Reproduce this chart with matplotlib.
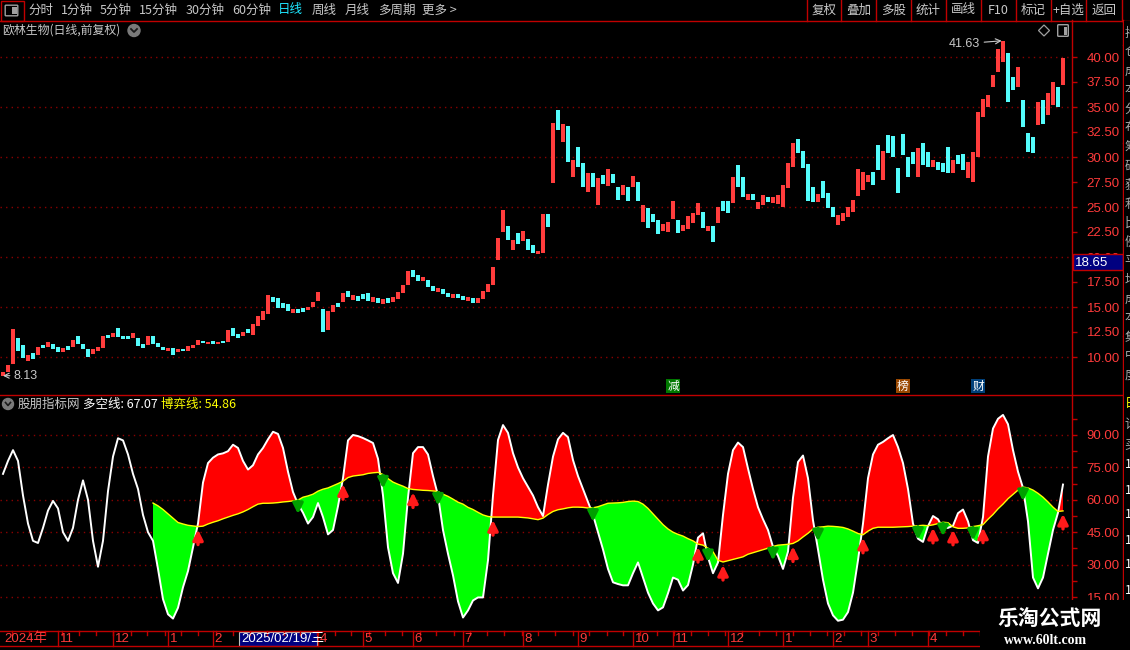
import numpy as np
import matplotlib.pyplot as plt
from matplotlib.patches import Rectangle, FancyBboxPatch, Circle, Polygon
from matplotlib.transforms import blended_transform_factory

plt.rcParams['font.family'] = ['Noto Sans CJK SC', 'DejaVu Sans']

# 欧林生物 日线(前复权), one bar here ~ two trading days
opens = [
    8.13, 8.5, 9.3, 11.9, 11.2, 9.6, 10.4, 10.2, 11.2, 11.0,
    11.3, 11.0, 10.5, 11.1, 11.0, 12.1, 11.3, 10.8, 10.3, 10.6,
    10.9, 12.2, 12.0, 12.9, 12.1, 12.1, 11.9, 11.9, 11.3, 11.2,
    12.1, 11.4, 11.0, 10.6, 10.9, 10.5, 10.8, 10.6, 10.9, 11.2,
    11.6, 11.3, 11.6, 11.3, 11.6, 11.5, 12.9, 12.3, 12.1, 12.8,
    12.2, 13.1, 13.7, 14.3, 16.0, 15.9, 15.4, 15.3, 14.4, 14.8,
    14.9, 14.7, 15.0, 15.6, 14.8, 12.7, 14.5, 15.4, 15.5, 16.6,
    15.7, 16.1, 16.3, 16.4, 15.5, 15.9, 15.3, 15.9, 15.5, 15.8,
    16.4, 17.2, 18.7, 18.2, 17.6, 17.7, 17.1, 16.5, 16.8, 16.4,
    15.9, 16.3, 16.1, 15.6, 15.9, 15.4, 15.8, 16.5, 17.2, 19.7,
    22.5, 23.1, 20.7, 22.4, 21.6, 21.8, 21.2, 20.3, 20.4, 24.3,
    27.4, 34.7, 31.5, 33.1, 28.0, 31.0, 29.4, 26.5, 28.4, 25.2,
    28.2, 27.1, 28.3, 27.0, 26.2, 27.0, 27.0, 27.5, 23.5, 24.9,
    24.3, 23.7, 22.6, 22.5, 23.8, 23.7, 22.6, 22.8, 23.4, 24.2,
    24.5, 22.6, 23.1, 23.4, 25.6, 25.6, 25.4, 29.2, 28.0, 25.7,
    26.3, 24.8, 25.2, 26.0, 25.4, 25.3, 25.0, 26.9, 29.0, 31.8,
    30.6, 29.3, 27.0, 25.5, 27.6, 26.4, 25.0, 23.2, 23.6, 24.0,
    24.5, 26.1, 26.7, 27.5, 28.5, 31.2, 27.7, 32.2, 32.1, 28.9,
    32.3, 30.0, 30.5, 28.0, 31.4, 30.5, 29.0, 29.5, 29.4, 31.0,
    28.4, 30.2, 30.3, 27.9, 27.5, 30.0, 34.0, 35.0, 37.0, 38.5,
    39.5, 40.4, 38.0, 37.0, 35.7, 32.4, 32.0, 33.2, 35.7, 34.2,
    35.2, 37.0, 37.2,
]
closes = [
    8.5, 9.2, 12.8, 10.6, 9.9, 10.2, 9.8, 11.0, 10.9, 11.5,
    10.8, 10.5, 10.9, 10.7, 11.7, 11.3, 10.8, 10.0, 10.8, 11.0,
    12.1, 11.9, 12.4, 12.0, 11.8, 11.8, 12.4, 11.1, 10.9, 12.1,
    11.3, 11.0, 10.7, 10.9, 10.2, 10.8, 10.6, 11.1, 11.2, 11.7,
    11.4, 11.5, 11.3, 11.5, 11.4, 12.7, 12.1, 11.9, 12.5, 12.4,
    13.3, 14.1, 14.6, 16.2, 15.5, 14.9, 14.9, 14.6, 14.8, 14.4,
    14.5, 15.0, 15.5, 16.5, 12.5, 14.6, 15.2, 15.0, 16.4, 16.0,
    16.2, 15.6, 15.8, 15.6, 16.0, 15.4, 15.8, 15.4, 16.0, 16.5,
    17.2, 18.6, 18.0, 17.6, 18.0, 17.0, 16.6, 16.9, 16.3, 16.0,
    16.3, 15.9, 15.7, 16.0, 15.4, 15.9, 16.6, 17.3, 19.0, 21.9,
    24.7, 21.7, 21.7, 21.3, 22.6, 20.7, 20.4, 20.6, 24.3, 23.0,
    33.4, 32.7, 33.3, 29.5, 29.7, 29.0, 27.0, 28.4, 27.0, 27.9,
    27.3, 28.8, 27.4, 25.7, 27.2, 25.6, 28.1, 25.6, 25.2, 22.9,
    23.5, 22.3, 23.3, 23.5, 25.6, 22.4, 23.2, 24.1, 24.4, 25.4,
    22.9, 23.1, 21.5, 25.0, 24.6, 24.4, 28.0, 27.0, 26.0, 26.3,
    25.7, 25.5, 26.2, 25.5, 26.0, 26.2, 27.2, 29.4, 31.4, 30.4,
    28.9, 25.6, 25.5, 26.3, 25.9, 24.9, 24.0, 24.2, 24.4, 25.0,
    25.7, 28.8, 28.5, 28.2, 27.2, 28.7, 30.6, 30.4, 30.0, 26.4,
    30.2, 28.0, 29.3, 30.9, 29.2, 29.0, 29.7, 28.7, 28.5, 28.4,
    29.7, 29.3, 28.7, 29.5, 30.5, 34.5, 35.8, 36.2, 38.2, 40.8,
    41.63, 35.5, 36.7, 39.0, 33.0, 30.5, 30.4, 35.5, 33.3, 36.4,
    37.5, 35.0, 39.9,
]

# 股朋指标网: 多空线 (white) and 博弈线 (yellow, starts later)
duokong = [
    72, 78, 83, 78, 62, 49, 41, 40, 47, 55,
    59.5, 56, 45, 41, 47, 60, 69, 60, 41, 29,
    41, 64, 80, 88.5, 87.5, 81, 72, 65, 53, 45,
    41, 28, 14, 7, 5, 10, 19.5, 27, 38, 49,
    68, 77, 79.5, 81, 81.5, 82.5, 85.5, 84, 78, 74,
    76, 81, 84, 88, 91.5, 90.5, 84, 73, 63.6, 58,
    54, 49, 52, 58.5, 52, 44, 46, 57, 70, 87.5,
    90, 89.5, 88.6, 87.5, 86.3, 79, 62, 38, 26, 21.5,
    35, 61, 81.6, 84.4, 84.4, 81, 71, 62, 46, 35,
    25, 13, 5.5, 8.8, 13.4, 14.8, 14.8, 32, 62, 87.7,
    94.6, 91, 81.6, 75, 70, 66, 62, 56.6, 52.5, 67,
    80, 88, 91, 89, 78.4, 71, 65, 59, 53, 45,
    37, 28, 21.8, 21, 20.4, 20.4, 26, 31, 24, 17,
    12, 8.8, 10.2, 16.7, 24, 23, 18, 20.5, 30, 42.5,
    44.5, 33.4, 26, 31, 53, 72, 83, 86.5, 84.4, 74.5,
    65, 56.6, 51, 46, 38.2, 34, 28, 36, 61, 77.5,
    80.5, 70, 50.5, 37, 23, 12, 6.5, 4, 4.5, 8,
    17, 32, 49, 70, 81, 85.5, 86.8, 88.5, 90, 84.4,
    77, 65, 49, 42, 40.5, 47.8, 52.5, 51, 46.8, 47,
    48, 53.8, 55.5, 50, 41.3, 40, 52, 80, 93, 97.5,
    99.3, 95, 83, 73, 65.5, 50, 24, 19, 24, 35,
    46, 54, 67.07,
]
boyi = [np.nan] * 30 + [
    58.5, 57.2, 55.5, 53.5, 51.5, 49.5, 48.8, 48.2, 47.9, 47.6,
    47.8, 48.8, 49.6, 50.3, 51.2, 52, 52.8, 53.5, 54.4, 55.5,
    56.8, 58, 58.4, 58.4, 58.5, 58.7, 59, 59.2, 59.5, 59.9,
    61.2, 61.8, 62.6, 64, 64.9, 65.5, 66.5, 67.5, 68.6, 70.3,
    71, 71.3, 71.6, 72.2, 72.5, 72.7, 71.7, 69.8, 68.2, 67.2,
    66.3, 65.2, 64.8, 64.6, 64.4, 64.3, 64.1, 63.8, 62.6, 61.6,
    60.3, 58.9, 58, 56.5, 55.5, 54.2, 53, 52.3, 52, 52,
    52, 52, 52, 52, 51.8, 51.6, 51.2, 50.8, 51.5, 53.2,
    54.6, 55.4, 55.8, 56.3, 56.6, 56.6, 56.5, 56.2, 56.3, 56.8,
    57.6, 58.4, 58.5, 58.6, 58.8, 59.2, 59.4, 59.2, 58, 56,
    53.5, 51, 48.5, 46.5, 45, 44, 43.2, 42, 41, 39.5,
    39, 37.6, 36, 32, 31.2, 31.8, 32.4, 33, 33.6, 34.8,
    35.5, 36.2, 36.9, 37.6, 38.4, 39, 39.2, 39.4, 39.8, 41,
    42.8, 44.5, 46.5, 47.3, 47.5, 47.8, 47.7, 47.5, 47.2, 46.5,
    45.5, 44.4, 43.8, 45.5, 46.8, 47.3, 47.3, 47.3, 47.3, 47.4,
    47.5, 47.6, 47.8, 48, 48.2, 48, 48.4, 49, 49.6, 49.4,
    47.5, 46.8, 46.8, 47, 47.6, 48, 48.5, 51, 53.2, 55.8,
    58, 60.5, 62.5, 64.5, 65.9, 65.5, 64.5, 63, 61.2, 59,
    56.6, 54.6, 54.86,
]

# time axis: bar index where each month starts (March 2025 sits under the cursor box)
month_labels = ['2024年', '11', '12', '1', '2', '4', '5', '6', '7', '8',
                '9', '10', '11', '12', '1', '2', '3', '4']
month_start = [0, 11, 22, 33, 42, 63, 72, 82, 92, 104,
               115, 126, 134, 145, 156, 166, 173, 185]

events = ['减', '榜', '财']
event_bar = [134, 180, 195]

price_ticks = np.arange(10, 40.01, 2.5)
ind_ticks = [15, 30, 45, 60, 75, 90]
cursor_date = '2025/02/19/三'
cursor_price = 18.65

W, H = 1130, 650
RED_LINE = '#c00000'
GRID = '#8a0000'
LABEL_RED = '#ff3b3b'
GRAY = '#c8c8c8'
NUMFONT = ['Liberation Sans', 'Noto Sans CJK SC']

fig = plt.figure(figsize=(W / 100, H / 100), dpi=100, facecolor='black')


def px_axes(l, t, r, b, z=1):
    a = fig.add_axes([l / W, 1 - b / H, (r - l) / W, (b - t) / H], zorder=z)
    a.set_facecolor('black')
    for s in a.spines.values():
        s.set_visible(False)
    return a


n = len(closes)
idx = np.arange(n)
o = np.array(opens)
c = np.array(closes)
w = np.array(duokong, float)
yl = np.array(boyi, float)

# ---- price panel ----
ax = px_axes(0, 20, 1072, 394)
ax.set_xlim(-0.6, n + 0.8)
ax.set_ylim(6.3, 43.7)
for v in np.arange(10, 41, 5):
    ax.axhline(v, color=GRID, lw=1, ls=(0, (1, 3)), zorder=0)
up = c >= o
ax.bar(idx[up], (c - o)[up], bottom=o[up], width=0.68, color='#ff3c3c', lw=0)
ax.bar(idx[~up], (c - o)[~up], bottom=o[~up], width=0.68, color='#54fcfc', lw=0)

hi = c.argmax()
ax.annotate(f'{c[hi]:.2f}', xy=(hi, c[hi]), xytext=(-23, -3), textcoords='offset pixels',
            ha='right', va='center', color=GRAY, fontsize=9, fontfamily=NUMFONT,
            arrowprops=dict(arrowstyle='->', color=GRAY, lw=0.8, shrinkA=1, shrinkB=1))
lows = np.minimum(o, c)
lo = lows.argmin()
ax.annotate(f'{lows[lo]:.2f}', xy=(lo, lows[lo]), xytext=(11, 0), textcoords='offset pixels',
            ha='left', va='center', color=GRAY, fontsize=9, fontfamily=NUMFONT,
            arrowprops=dict(arrowstyle='->', color=GRAY, lw=0.8, shrinkA=1, shrinkB=0))

for lab, b, col in zip(events, event_bar, ['#007800', '#9a4800', '#00407a']):
    ax.text(b, 7.1, lab, color='white', fontsize=8.5, ha='center', va='center',
            bbox=dict(boxstyle='square,pad=0.08', fc=col, ec='none'))

ax.yaxis.tick_right()
ax.set_yticks(price_ticks)
ax.set_yticklabels([f'{v:.2f}' for v in price_ticks], fontfamily='Liberation Sans')
ax.tick_params(axis='y', color=RED_LINE, labelcolor=LABEL_RED, length=3.6, width=1,
               pad=7, labelsize=9.5)
ax.set_xticks([])

# ---- indicator panel ----
ax2 = px_axes(0, 394, 1072, 631)
ax2.set_xlim(-0.6, n + 0.8)
ax2.set_ylim(-0.74, 108.98)
for v in ind_ticks:
    ax2.axhline(v, color=GRID, lw=1, ls=(0, (1, 3)), zorder=0)
ax2.fill_between(idx, w, yl, where=w >= yl, interpolate=True, color='#ff0000', lw=0, zorder=2)
ax2.fill_between(idx, w, yl, where=w < yl, interpolate=True, color='#00ff00', lw=0, zorder=2)
ax2.plot(idx, w, color='white', lw=1.4, zorder=3)
ax2.plot(idx, yl, color='#ffff00', lw=1, zorder=3)

unit = (108.98 + 0.74) / 237  # value per pixel
for i in range(31, n):
    d0 = w[i - 1] - yl[i - 1]
    d1 = w[i] - yl[i]
    if d0 < 0 <= d1:
        ax2.annotate('', xy=(i, yl[i] - 3 * unit), xytext=(i, yl[i] - 18 * unit),
                     arrowprops=dict(arrowstyle='-|>', color='#ff1a1a', lw=2.4,
                                     mutation_scale=15, shrinkA=0, shrinkB=0), zorder=4)
    elif d0 >= 0 > d1:
        ax2.annotate('', xy=(i, yl[i] - 14 * unit), xytext=(i, yl[i] - 1 * unit),
                     arrowprops=dict(arrowstyle='-|>', color='#00a000', lw=2.4,
                                     mutation_scale=15, shrinkA=0, shrinkB=0), zorder=4)

ax2.yaxis.tick_right()
ax2.set_yticks(ind_ticks)
ax2.set_yticks(np.arange(7.5, 100, 15), minor=True)
ax2.set_yticklabels([f'{v:.2f}' for v in ind_ticks], fontfamily='Liberation Sans')
ax2.tick_params(axis='y', which='both', color=RED_LINE, labelcolor=LABEL_RED, length=3.6,
                width=1, pad=7, labelsize=9.5)
ax2.set_xticks([])

# ---- frame, toolbar, labels ----
ov = fig.add_axes([0, 0, 1, 1], zorder=5)
ov.set_xlim(0, W)
ov.set_ylim(H, 0)
ov.axis('off')


def hline(y, x0, x1):
    ov.plot([x0, x1], [y, y], color=RED_LINE, lw=1)


def vline(x, y0, y1):
    ov.plot([x, x], [y0, y1], color=RED_LINE, lw=1)


hline(20.5, 0, W)
hline(394.5, 0, 1123)
hline(631, 0, W)
hline(646, 0, W)
vline(1072, 20, H)
vline(1123, 20, H)
for y in [45, 143, 239, 336]:
    hline(y, 1123, W)

# toolbar
ov.add_patch(Rectangle((0.5, 0.5), 23, 20, fill=False, ec=RED_LINE, lw=1))
ov.add_patch(FancyBboxPatch((6, 6), 11, 9, boxstyle='round,pad=0.8', fc='none', ec='#a0a0a0', lw=1))
ov.add_patch(Rectangle((11.5, 7), 5, 7, fc='#a0a0a0', ec='none'))
left_items = ['分时', '1分钟', '5分钟', '15分钟', '30分钟', '60分钟', '日线', '周线', '月线', '多周期', '更多 >']
left_x = [28, 61, 100, 139, 186, 232, 278, 312, 345, 378, 422]
for lab, x in zip(left_items, left_x):
    ov.text(x, 10, lab, color='#1ee6ff' if lab == '日线' else GRAY, fontsize=9,
            va='center', ha='left')
right_items = ['复权', '叠加', '多股', '统计', '画线', 'F10', '标记', '+自选', '返回']
seps = [807, 841, 876, 911, 946, 981, 1016, 1051, 1086, 1122]
for k, lab in enumerate(right_items):
    ov.text((seps[k] + seps[k + 1]) / 2, 10, lab, color=GRAY, fontsize=9, va='center', ha='center')
for x in seps:
    vline(x, 0, 20.5)

# price panel title and icons
ov.text(2, 30, '欧林生物(日线,前复权)', color=GRAY, fontsize=8.6, va='center', ha='left')
ov.add_patch(Circle((134, 30.5), 6, color='#7a7a7a'))
ov.plot([131, 134, 137], [29, 32, 29], color='#1a1a1a', lw=1.3)
ov.add_patch(Polygon([(1044, 25), (1049.5, 30.5), (1044, 36), (1038.5, 30.5)], closed=True,
                     fill=False, ec='#a0a0a0', lw=0.9))
ov.add_patch(FancyBboxPatch((1058.5, 25.5), 9, 10, boxstyle='round,pad=0.8', fc='none', ec='#a0a0a0', lw=1))
ov.add_patch(Rectangle((1063.5, 26.5), 3.5, 8, fc='#a0a0a0', ec='none'))

# cursor price box
ov.add_patch(Rectangle((1072.5, 254), 50.5, 16, fc='#000080', ec=RED_LINE, lw=1))
ov.text(1075, 262.5, f'{cursor_price:.2f}', color='white', fontsize=9.5, va='center',
        ha='left', fontfamily='Liberation Sans')

# indicator title
ov.add_patch(Circle((8, 404), 5.5, color='#7a7a7a'))
ov.plot([5.5, 8, 10.5], [402.5, 405.5, 402.5], color='#1a1a1a', lw=1.2)
ov.text(18, 404, '股朋指标网', color=GRAY, fontsize=9, va='center', ha='left')
ov.text(83, 404, f'多空线: {w[-1]:.2f}', color='white', fontsize=9, va='center', ha='left')
ov.text(161, 404, f'博弈线: {yl[-1]:.2f}', color='#ffff00', fontsize=9, va='center', ha='left')

# date axis
tr = blended_transform_factory(ax2.transData, ov.transData)
for t in np.arange(1.7, n, 3.4):
    ov.plot([t, t], [631, 635], color=RED_LINE, lw=1, transform=tr)
for lab, b in zip(month_labels, month_start):
    if b > 0:
        ov.plot([b, b], [631, 646], color=RED_LINE, lw=1, transform=tr)
    ov.text(b + 0.3, 639, lab, transform=tr, color=LABEL_RED, fontsize=9.5, va='center',
            ha='left', fontfamily=NUMFONT)
ov.add_patch(Rectangle((239, 631.5), 78, 14, fc='#000080', ec='#c0c0c0', lw=0.8))
ov.text(241, 639, cursor_date, color='white', fontsize=9.5, va='center', ha='left',
        fontfamily=NUMFONT)

# right side strip (cut off in the screenshot)
strip = px_axes(1124, 21, W, 600, z=6)
strip.set_xlim(0, 6)
strip.set_ylim(579, 0)
strip.set_xticks([])
strip.set_yticks([])
for k, ch in enumerate('持仓成本分布筹码获利比例平均成本集中度'):
    strip.text(0.5, 12 + k * 19, ch, color='#a8a8a8', fontsize=9, va='center', clip_on=True)
for k, ch in enumerate('日论买'):
    strip.text(0.5, 382 + k * 21, ch, color='#ffff00' if k == 0 else '#a8a8a8',
               fontsize=9, va='center', clip_on=True)
for k in range(6):
    strip.text(0.5, 444 + k * 25, '1', color='white', fontsize=9, va='center', clip_on=True)

# watermark
ov.add_patch(Rectangle((980, 600), 150, 50, fc='black', ec='none', zorder=10))
ov.text(1050, 618, '乐淘公式网', color='white', fontsize=15, fontweight='bold',
        va='center', ha='center', zorder=11)
ov.text(1046, 640, 'www.60lt.com', color='white', fontsize=10, fontweight='bold',
        fontfamily='Liberation Serif', va='center', ha='center', zorder=11)

fig.savefig('out.png', dpi=100, facecolor='black')
